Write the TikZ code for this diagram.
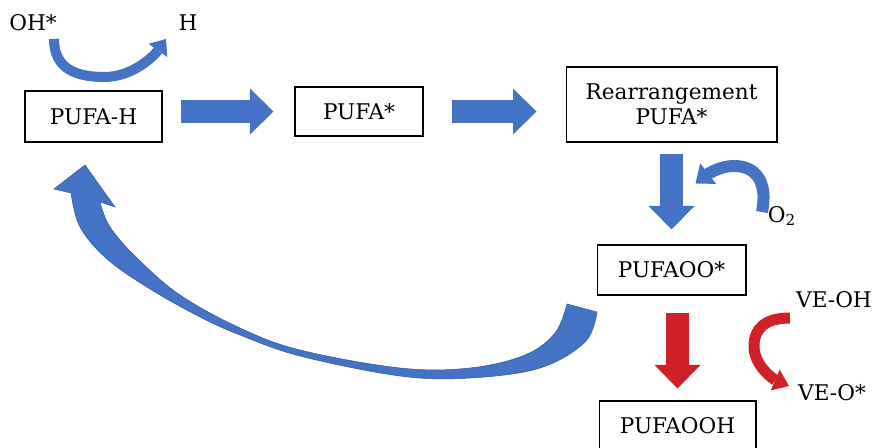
\documentclass[tikz,border=0pt]{standalone}
\usepackage{fontspec}
\setmainfont{DejaVu Serif}
\usetikzlibrary{calc,arrows.meta}
\definecolor{arrowblue}{RGB}{68,114,196}
\definecolor{arrowred}{RGB}{208,32,40}

\begin{document}
\begin{tikzpicture}[x=0.02cm, y=-0.02cm, font=\fontsize{12.3}{14.2}\selectfont,
  box/.style={draw, line width=.6pt, inner sep=0pt, minimum height=1cm, align=center},
  fat/.style={line width=.46cm, draw=arrowblue, -{Triangle[width=.92cm, length=.47cm, line width=0pt]}},
  curvy/.style={line width=.2cm, draw=arrowblue, -{Triangle[width=.46cm, length=.28cm, line width=0pt]}}]
  \useasboundingbox (0,0) rectangle (874,448);

  \node[box, minimum width=2.74cm, minimum height=1.02cm] (pufah) at (93.5,116.5) {PUFA-H};
  \node[box, minimum width=2.56cm, minimum height=.98cm] (pufa) at (359,111.5) {PUFA*};
  \node[box, minimum width=4.22cm, minimum height=1.5cm] (rearr) at (671.5,104.5) {Rearrangement\\PUFA*};
  \node[box, minimum width=2.98cm] (pufaoo) at (671.5,270) {PUFAOO*};
  \node[box, minimum width=3.14cm] (pufaooh) at (677.5,426) {PUFAOOH};

  \node (oh) at (33,23) {OH*};
  \node (h) at (188,23) {H};
  \node (o2) at (782,216) {O\textsubscript{2}};
  \node (veoh) at (834,300) {VE-OH};
  \node (veo) at (832,393) {VE-O*};

  \draw[fat] ($(pufah.east |- pufa)+(18,0)$) -- ($(pufa.west)+(-21,0)$);
  \draw[fat] ($(pufa.east)+(28,0)$) -- ($(rearr.west |- pufa)+(-29,0)$);
  \draw[fat] ($(rearr.south)+(0,11)$) -- ($(pufaoo.north)+(0,-15)$);
  \draw[fat, draw=arrowred] ($(pufaooh.north |- pufaoo.south)+(0,17)$) -- ($(pufaooh.north)+(0,-12)$);

  % small curved arrows
  \draw[curvy] ($(oh)+(21,16)$) .. controls +(0,30) and +(-28,0) .. ($(oh)!.5!(h)+(-6,54)$)
    .. controls +(28,0) and +(-12,17) .. ($(h)+(-22,16)$);
  \draw[curvy, line width=.24cm, -{Triangle[width=.52cm, length=.32cm, line width=0pt]}]
    ($(o2)+(-20,-4)$) .. controls +(6,-30) and +(22,0) .. ($(o2)+(-48,-50)$)
    .. controls +(-16,0) and +(9,-7) .. ($(pufaoo.north east)+(-51,-61)$);
  \draw[curvy, draw=arrowred, line width=.22cm, -{Triangle[width=.45cm, length=.3cm, line width=0pt]}]
    ($(veoh)+(-44,18)$) .. controls +(-25,0) and +(0,-18) .. ($(veoh)!.5!(veo)+(-79,0)$)
    .. controls +(0,20) and +(-14,-6) .. ($(veo)+(-43,-7)$);

  % big return arrow
  \fill[arrowblue, draw=arrowblue!80!black, line width=.3pt]
    plot[smooth, tension=.6] coordinates {(597,312) (585,342) (540,368) (470,378) (400,376) (300,356)
      (240,335) (200,317) (150,289) (107,259) (80,227) (71,193)}
    -- (54,189) -- (85,165) -- (115,207)
    -- plot[smooth, tension=.6] coordinates {(100,202) (110,227) (137,258) (180,295) (240,328) (300,350)
      (400,368) (470,368) (525,355) (555,333) (567,304)} -- cycle;
\end{tikzpicture}
\end{document}
